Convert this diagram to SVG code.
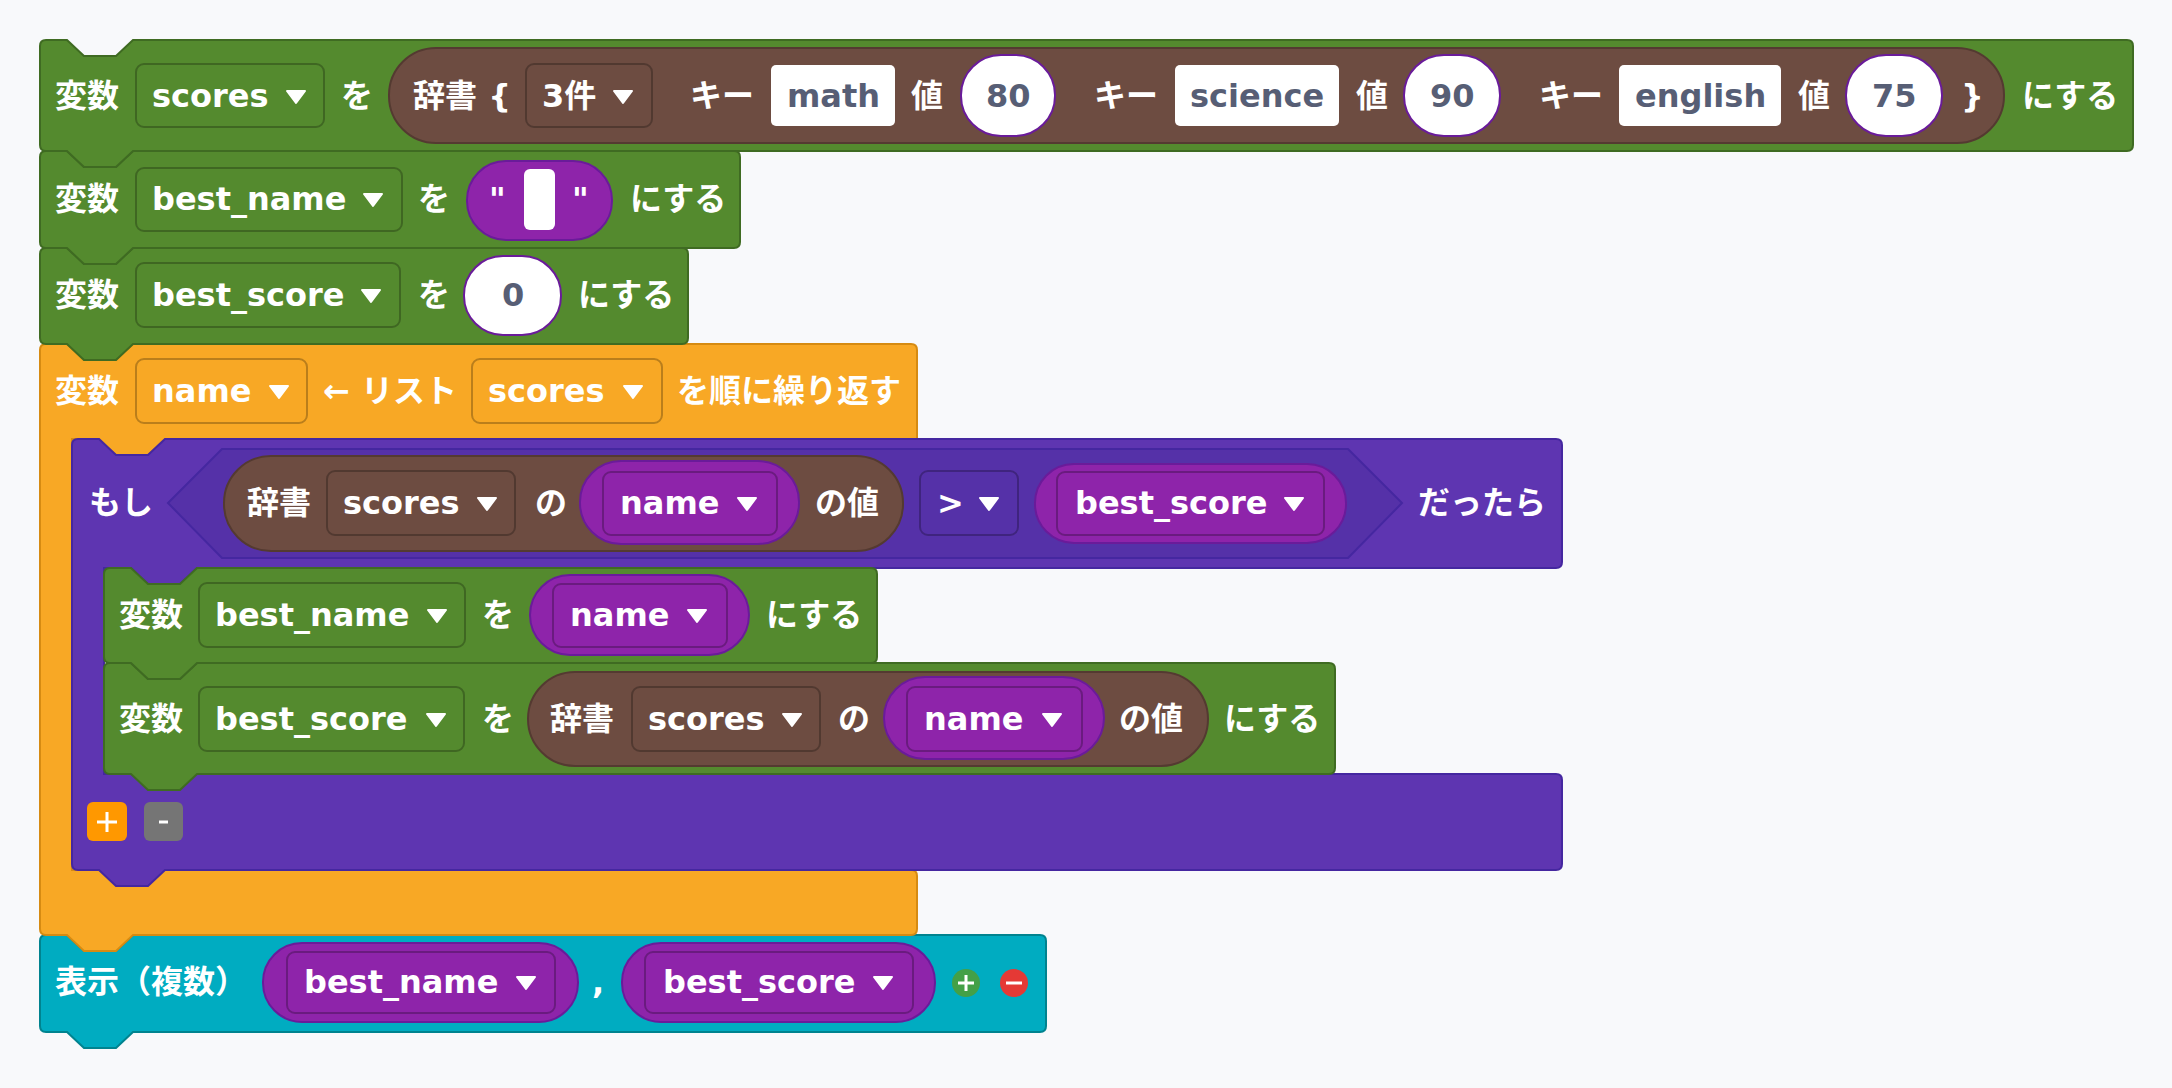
<svg xmlns="http://www.w3.org/2000/svg" width="2172" height="1088" viewBox="0 0 2172 1088">
<defs>
<style>
text{font-family:"DejaVu Sans","Noto Sans CJK JP",sans-serif;font-weight:bold;font-size:32px;fill:#fff}
.dk{fill:#575e75}
.green{fill:#548a2e;stroke:#3f6b22;stroke-width:2}
.orange{fill:#f8a825;stroke:#d68b12;stroke-width:2}
.purple{fill:#5e35b1;stroke:#4527a0;stroke-width:2}
.teal{fill:#00acc1;stroke:#00838f;stroke-width:2}
.brown{fill:#6d4c41;stroke:#543a31;stroke-width:2}
.var{fill:#8e24aa;stroke:#6a1b9a;stroke-width:2}
.dd{fill-opacity:0;stroke:#000;stroke-opacity:.25;stroke-width:2}
.wbox{fill:#fff;stroke:#6a1b9a;stroke-width:2}
</style>
<path id="tri" d="M0 0 L18 0 L9 12 Z" fill="#fff" stroke="#fff" stroke-width="2" stroke-linejoin="round"/>
</defs>
<rect width="2172" height="1088" fill="#f8f9fb"/>
<g id="connectors"></g>

<g id="print">
<path class="teal" d="M40 941Q40 935 46 935L67 935L84 951L116 951L133 935L1040 935Q1046 935 1046 941L1046 1026Q1046 1032 1040 1032L133 1032L116 1048L84 1048L67 1032L46 1032Q40 1032 40 1026Z"/>
<text x="55" y="993">表示（複数）</text>
<rect class="var" x="263" y="943" width="315" height="79" rx="39"/>
<rect class="dd" x="287" y="952" width="268" height="61" rx="8"/>
<text x="304" y="993">best_name</text><use href="#tri" x="517" y="977"/>
<text x="592" y="993">,</text>
<rect class="var" x="622" y="943" width="313" height="79" rx="39"/>
<rect class="dd" x="645" y="952" width="268" height="61" rx="8"/>
<text x="663" y="993">best_score</text><use href="#tri" x="874" y="977"/>
<circle cx="966" cy="983" r="14" fill="#43a047"/>
<path d="M966 975V991M958 983H974" stroke="#fff" stroke-width="3"/>
<circle cx="1014" cy="983" r="14" fill="#e53935"/>
<path d="M1006 983H1022" stroke="#fff" stroke-width="3"/>
</g>

<g id="loop">
<path class="orange" d="M40 350Q40 344 46 344L67 344L84 360L116 360L133 344L911 344Q917 344 917 350L917 439L165 439L148 455L116 455L99 439L72 439L72 870L911 870Q917 870 917 876L917 929Q917 935 911 935L133 935L116 951L84 951L67 935L46 935Q40 935 40 929Z"/>
<text x="55" y="402">変数</text>
<rect class="dd" x="136" y="359" width="171" height="64" rx="8"/>
<text x="152" y="402">name</text><use href="#tri" x="270" y="386"/>
<text x="323" y="402">← リスト</text>
<rect class="dd" x="472" y="359" width="190" height="64" rx="8"/>
<text x="488" y="402">scores</text><use href="#tri" x="624" y="386"/>
<text x="677" y="402">を順に繰り返す</text>
</g>

<g id="if">
<path class="purple" d="M72 445Q72 439 78 439L99 439L116 455L148 455L165 439L1556 439Q1562 439 1562 445L1562 562Q1562 568 1556 568L197 568L180 584L148 584L131 568L104 568L104 774L1556 774Q1562 774 1562 780L1562 864Q1562 870 1556 870L165 870L148 886L116 886L99 870L78 870Q72 870 72 864Z"/>
<text x="89" y="514">もし</text>
<path d="M168 503L222 449L1348 449L1402 503L1348 558L222 558Z" fill="#5531a8" stroke="#4527a0" stroke-width="2"/>
<rect class="brown" x="224" y="456" width="679" height="95" rx="47"/>
<text x="247" y="514">辞書</text>
<rect class="dd" x="327" y="471" width="188" height="64" rx="8"/>
<text x="343" y="514">scores</text><use href="#tri" x="478" y="498"/>
<text x="535" y="514">の</text>
<rect class="var" x="580" y="461" width="219" height="83" rx="41"/>
<rect class="dd" x="603" y="472" width="174" height="63" rx="8"/>
<text x="620" y="514">name</text><use href="#tri" x="738" y="498"/>
<text x="815" y="514">の値</text>
<rect class="dd" x="920" y="471" width="98" height="64" rx="8"/>
<text x="937" y="514">&gt;</text><use href="#tri" x="980" y="498"/>
<rect class="var" x="1035" y="464" width="311" height="79" rx="39"/>
<rect class="dd" x="1057" y="472" width="267" height="63" rx="8"/>
<text x="1075" y="514">best_score</text><use href="#tri" x="1285" y="498"/>
<text x="1418" y="514">だったら</text>
<rect x="87" y="802" width="40" height="39" rx="6" fill="#ff9800"/>
<path d="M107 812V832M97 822H117" stroke="#fff" stroke-width="3"/>
<rect x="144" y="802" width="39" height="39" rx="6" fill="#757575"/>
<path d="M159 822H168" stroke="#fff" stroke-width="3"/>
</g>

<g id="set_best_score_inner">
<path class="green" d="M104 669Q104 663 110 663L131 663L148 679L180 679L197 663L1329 663Q1335 663 1335 669L1335 768Q1335 774 1329 774L197 774L180 790L148 790L131 774L110 774Q104 774 104 768Z"/>
<text x="119" y="730">変数</text>
<rect class="dd" x="199" y="687" width="265" height="64" rx="8"/>
<text x="215" y="730">best_score</text><use href="#tri" x="427" y="714"/>
<text x="482" y="730">を</text>
<rect class="brown" x="528" y="672" width="680" height="94" rx="47"/>
<text x="550" y="730">辞書</text>
<rect class="dd" x="632" y="687" width="188" height="64" rx="8"/>
<text x="648" y="730">scores</text><use href="#tri" x="783" y="714"/>
<text x="838" y="730">の</text>
<rect class="var" x="884" y="677" width="220" height="82" rx="41"/>
<rect class="dd" x="907" y="687" width="175" height="64" rx="8"/>
<text x="924" y="730">name</text><use href="#tri" x="1043" y="714"/>
<text x="1119" y="730">の値</text>
<text x="1224" y="730">にする</text>
</g>

<g id="set_best_name_inner">
<path class="green" d="M104 574Q104 568 110 568L131 568L148 584L180 584L197 568L871 568Q877 568 877 574L877 657Q877 663 871 663L197 663L180 679L148 679L131 663L110 663Q104 663 104 657Z"/>
<text x="119" y="626">変数</text>
<rect class="dd" x="199" y="583" width="266" height="64" rx="8"/>
<text x="215" y="626">best_name</text><use href="#tri" x="428" y="610"/>
<text x="482" y="626">を</text>
<rect class="var" x="530" y="575" width="219" height="80" rx="40"/>
<rect class="dd" x="553" y="584" width="174" height="63" rx="8"/>
<text x="570" y="626">name</text><use href="#tri" x="688" y="610"/>
<text x="766" y="626">にする</text>
</g>

<g id="set_best_score">
<path class="green" d="M40 254Q40 248 46 248L67 248L84 264L116 264L133 248L682 248Q688 248 688 254L688 338Q688 344 682 344L133 344L116 360L84 360L67 344L46 344Q40 344 40 338Z"/>
<text x="55" y="306">変数</text>
<rect class="dd" x="136" y="263" width="264" height="64" rx="8"/>
<text x="152" y="306">best_score</text><use href="#tri" x="362" y="290"/>
<text x="418" y="306">を</text>
<rect class="wbox" x="464" y="256" width="97" height="79" rx="39"/>
<text class="dk" x="502" y="306">0</text>
<text x="578" y="306">にする</text>
</g>

<g id="set_best_name">
<path class="green" d="M40 157Q40 151 46 151L67 151L84 167L116 167L133 151L734 151Q740 151 740 157L740 242Q740 248 734 248L133 248L116 264L84 264L67 248L46 248Q40 248 40 242Z"/>
<text x="55" y="210">変数</text>
<rect class="dd" x="136" y="168" width="266" height="63" rx="8"/>
<text x="152" y="210">best_name</text><use href="#tri" x="364" y="194"/>
<text x="418" y="210">を</text>
<rect class="var" x="467" y="161" width="145" height="79" rx="39"/>
<text x="489" y="210">"</text>
<rect x="524" y="169" width="31" height="61" rx="6" fill="#fff"/>
<text x="572" y="210">"</text>
<text x="630" y="210">にする</text>
</g>

<g id="set_scores">
<path class="green" d="M40 46Q40 40 46 40L67 40L84 56L116 56L133 40L2127 40Q2133 40 2133 46L2133 145Q2133 151 2127 151L133 151L116 167L84 167L67 151L46 151Q40 151 40 145Z"/>
<text x="55" y="107">変数</text>
<rect class="dd" x="136" y="64" width="188" height="63" rx="8"/>
<text x="152" y="107">scores</text><use href="#tri" x="287" y="91"/>
<text x="341" y="107">を</text>
<rect class="brown" x="389" y="48" width="1615" height="95" rx="47"/>
<text x="413" y="107">辞書 {</text>
<rect class="dd" x="526" y="64" width="126" height="63" rx="8"/>
<text x="542" y="107">3件</text><use href="#tri" x="614" y="91"/>
<text x="690" y="107">キー</text>
<rect x="771" y="65" width="124" height="61" rx="5" fill="#fff"/>
<text class="dk" x="787" y="107">math</text>
<text x="911" y="107">値</text>
<rect class="wbox" x="961" y="55" width="94" height="81" rx="40"/>
<text class="dk" x="986" y="107">80</text>
<text x="1094" y="107">キー</text>
<rect x="1175" y="65" width="164" height="61" rx="5" fill="#fff"/>
<text class="dk" x="1190" y="107">science</text>
<text x="1356" y="107">値</text>
<rect class="wbox" x="1404" y="55" width="96" height="81" rx="40"/>
<text class="dk" x="1430" y="107">90</text>
<text x="1539" y="107">キー</text>
<rect x="1619" y="65" width="162" height="61" rx="5" fill="#fff"/>
<text class="dk" x="1635" y="107">english</text>
<text x="1798" y="107">値</text>
<rect class="wbox" x="1846" y="55" width="96" height="81" rx="40"/>
<text class="dk" x="1872" y="107">75</text>
<text x="1961" y="107">}</text>
<text x="2022" y="107">にする</text>
</g>
</svg>
